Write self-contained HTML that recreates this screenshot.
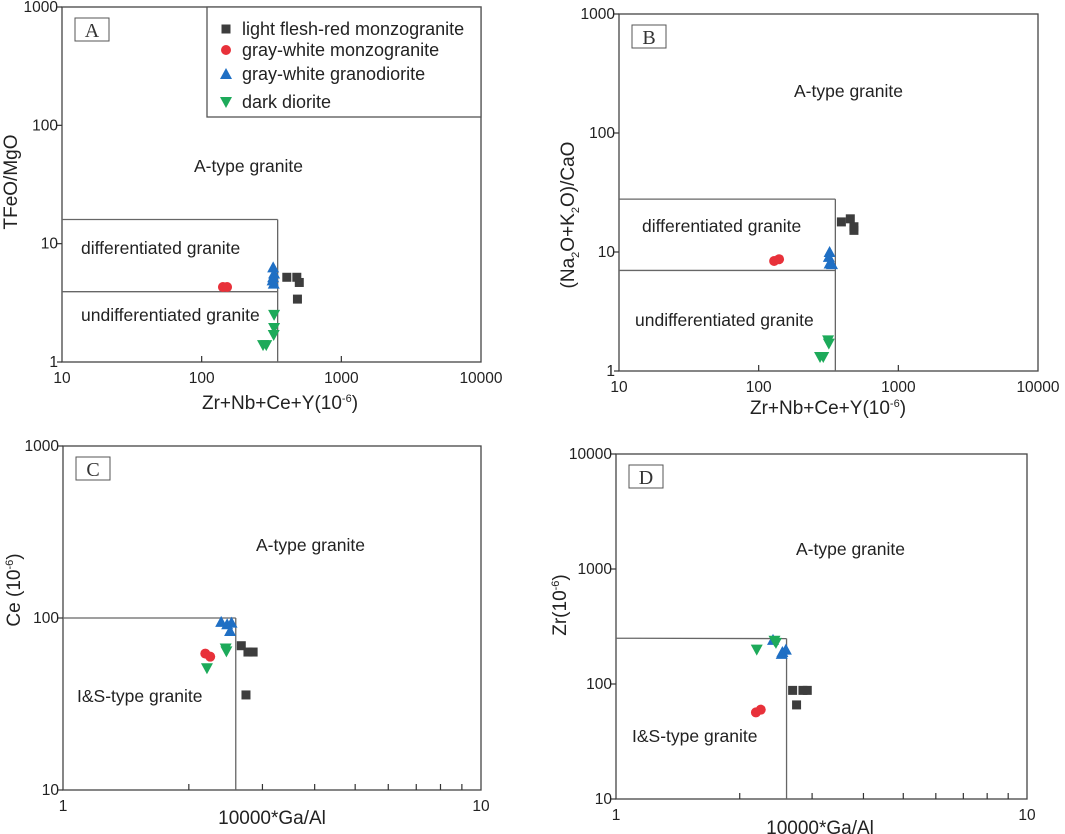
<!DOCTYPE html>
<html><head><meta charset="utf-8"><style>
body{margin:0;background:#fff;}
svg{display:block;font-family:"Liberation Sans",Arial,sans-serif;}
</style></head><body>
<svg id="fig" width="1065" height="834" viewBox="0 0 1065 834"></svg>
<script>
// Panel A data: Zr+Nb+Ce+Y vs TFeO/MgO
const aSqX=[407,500,480,485], aSqY=[5.2,4.7,5.2,3.4];
const aCiX=[142,152], aCiY=[4.3,4.3];
const aTrX=[325,325,328,330,322], aTrY=[6.3,5.2,4.6,5.6,4.9];
const aDtX=[330,330,328,275,290], aDtY=[2.5,1.94,1.69,1.39,1.39];
// Panel B data
const bSqX=[391,453,481,481], bSqY=[17.9,19,16.3,15.2];
const bCiX=[129,140], bCiY=[8.4,8.7];
const bTrX=[322,322,318,335], bTrY=[10,8.0,9.1,7.9];
const bDtX=[314,318,275,290], bDtY=[1.81,1.70,1.31,1.31];
// Panel C data: 10000*Ga/Al vs Ce
const cSqX=[2.67,2.77,2.85,2.74], cSqY=[69,63.4,63.4,35.7];
const cCiX=[2.19,2.25], cCiY=[62.1,59.6];
const cTrX=[2.39,2.47,2.53,2.51], cTrY=[95,92,94,84];
const cDtX=[2.45,2.46,2.21], cDtY=[66.5,64,51];
// Panel D data: 10000*Ga/Al vs Zr
const dSqX=[2.69,2.85,2.92,2.75], dSqY=[88,88,88,65.8];
const dCiX=[2.19,2.25], dCiY=[56.6,59.8];
const dTrX=[2.54,2.59,2.53,2.41], dTrY=[190,199,183,242];
const dDtX=[2.20,2.43,2.45], dDtY=[199,238,228];
const legendLabels=["light flesh-red monzogranite","gray-white monzogranite","gray-white granodiorite","dark diorite"];

const NS="http://www.w3.org/2000/svg";
const svg=document.getElementById('fig');
function mk(tag,attrs,parent,text){const e=document.createElementNS(NS,tag);for(const k in attrs)e.setAttribute(k,attrs[k]);if(text!==undefined)e.textContent=text;(parent||svg).appendChild(e);return e;}

function panel(p){
  const g=mk('g',{});
  
  
  const lx=Math.log10(p.x0),ux=Math.log10(p.x1),ly=Math.log10(p.y0),uy=Math.log10(p.y1);
  const X=v=>p.L+(Math.log10(v)-lx)/(ux-lx)*(p.R-p.L);
  const Y=v=>p.B-(Math.log10(v)-ly)/(uy-ly)*(p.B-p.T);
  const fr=mk('rect',{x:p.L,y:p.T,width:p.R-p.L,height:p.B-p.T,fill:'none',stroke:'#444','stroke-width':1.3},g);
  
  
  for(let e=ly;e<=uy+1e-9;e++){const v=Math.pow(10,e);const y=Y(v);
    mk('line',{x1:p.L-5,x2:p.L,y1:y,y2:y,stroke:'#333','stroke-width':1.2},g);
    const t=mk('text',{x:p.L-4,y:y+5,'text-anchor':'end','font-size':15.5,fill:'#222'},g,String(Math.round(v)));
    
    
  }
  for(let e=lx;e<=ux+1e-9;e++){const v=Math.pow(10,e);const x=X(v);
    const t=mk('text',{x:x,y:p.B+21,'text-anchor':'middle','font-size':15.5,fill:'#222'},g,String(Math.round(v)));
    
    
    if(!p.minor&&e>lx&&e<ux){mk('line',{x1:x,x2:x,y1:p.B,y2:p.B-6,stroke:'#333','stroke-width':1.2},g);}
    if(p.minor&&e<ux){for(let m=2;m<=9;m++){const xm=X(m*v);mk('line',{x1:xm,x2:xm,y1:p.B,y2:p.B-6,stroke:'#333','stroke-width':1.2},g);}}
  }
  p.bounds.forEach(b=>{mk('line',{x1:X(b[0]),y1:Y(b[1]),x2:X(b[2]),y2:Y(b[3]),stroke:'#666','stroke-width':1.3},g);});
  const lb=mk('rect',{x:p.L+13,y:p.T+11,width:34,height:23,fill:'#fff',stroke:'#555','stroke-width':1},g);
  
  
  mk('text',{x:p.L+30,y:p.T+30,'text-anchor':'middle','font-size':20,'font-family':'"Liberation Serif",serif',fill:'#333'},g,p.letter);
  p.regions.forEach(r=>{const t=mk('text',{x:r[1],y:r[2],'font-size':17.5,fill:'#222'},g,r[0]);
    
    });
  const xt=mk('text',{x:p.xt[0],y:p.xt[1],'text-anchor':'middle','font-size':19,fill:'#222'},g);
  xt.innerHTML=p.xtitle;
  
  
  const yt=mk('text',{x:0,y:0,'text-anchor':'middle','font-size':19,fill:'#222',transform:`translate(${p.yt[0]},${p.yt[1]}) rotate(-90)`},g);
  yt.innerHTML=p.ytitle;
  
  
  p.series.forEach(s=>{s.xs.forEach((xv,i)=>{marker(g,s.type,X(xv),Y(s.ys[i]));});});
  return g;
}
function marker(g,type,x,y){
  let e;
  if(type==='sq')e=mk('rect',{x:x-4.5,y:y-4.5,width:9,height:9,fill:'#3d3d3d'},g);
  else if(type==='ci')e=mk('circle',{cx:x,cy:y,r:5,fill:'#e8313a'},g);
  else if(type==='tr')e=mk('polygon',{points:`${x},${y-6} ${x-6},${y+5} ${x+6},${y+5}`,fill:'#1f6fc4'},g);
  else e=mk('polygon',{points:`${x},${y+6} ${x-6},${y-5} ${x+6},${y-5}`,fill:'#1daa5a'},g);
  
  
  return e;
}
const sub='<tspan dy="-7" font-size="11">-6</tspan><tspan dy="7">)</tspan>';
const gA=panel({name:'panel-a',letter:'A',L:62,R:481,T:7,B:362,x0:10,x1:10000,y0:1,y1:1000,
  bounds:[[10,16,350,16],[350,16,350,1],[10,3.93,350,3.93]],
  regions:[['A-type granite',194,172],['differentiated granite',81,254],['undifferentiated granite',81,321]],
  xt:[280,409],xtitle:'Zr+Nb+Ce+Y(10'+sub,yt:[17,182],ytitle:'TFeO/MgO',
  series:[{type:'sq',xs:aSqX,ys:aSqY},{type:'ci',xs:aCiX,ys:aCiY},{type:'tr',xs:aTrX,ys:aTrY},{type:'dt',xs:aDtX,ys:aDtY}]});
const lg=mk('g',{},gA);


mk('rect',{x:207,y:7,width:274,height:110,fill:'#fff',stroke:'#555','stroke-width':1.3},lg);
const legTypes=['sq','ci','tr','dt'];
const legY=[29,50,74,102];
legendLabels.forEach((lab,i)=>{
  marker(lg,legTypes[i],226,legY[i]);
  const t=mk('text',{x:242,y:legY[i]+6,'font-size':18,fill:'#222'},lg,lab);
  
  
});
panel({name:'panel-b',letter:'B',L:619,R:1038,T:14,B:371,x0:10,x1:10000,y0:1,y1:1000,
  bounds:[[10,27.8,354,27.8],[354,27.8,354,1],[10,7,354,7]],
  regions:[['A-type granite',794,97],['differentiated granite',642,232],['undifferentiated granite',635,326]],
  xt:[828,414],xtitle:'Zr+Nb+Ce+Y(10'+sub,yt:[574,215],ytitle:'(Na<tspan dy="5" font-size="11">2</tspan><tspan dy="-5">O+K</tspan><tspan dy="5" font-size="11">2</tspan><tspan dy="-5">O)/CaO</tspan>',
  series:[{type:'sq',xs:bSqX,ys:bSqY},{type:'ci',xs:bCiX,ys:bCiY},{type:'tr',xs:bTrX,ys:bTrY},{type:'dt',xs:bDtX,ys:bDtY}]});
panel({name:'panel-c',letter:'C',L:63,R:481,T:446,B:790,x0:1,x1:10,y0:10,y1:1000,minor:true,
  bounds:[[1,100,2.59,100],[2.59,100,2.59,10]],
  regions:[['A-type granite',256,551],['I&S-type granite',77,702]],
  xt:[272,824],xtitle:'10000*Ga/Al',yt:[20,590],ytitle:'Ce (10'+sub,
  series:[{type:'sq',xs:cSqX,ys:cSqY},{type:'ci',xs:cCiX,ys:cCiY},{type:'tr',xs:cTrX,ys:cTrY},{type:'dt',xs:cDtX,ys:cDtY}]});
panel({name:'panel-d',letter:'D',L:616,R:1027,T:454,B:799,x0:1,x1:10,y0:10,y1:10000,minor:true,
  bounds:[[1,250,2.6,248],[2.6,248,2.6,10]],
  regions:[['A-type granite',796,555],['I&S-type granite',632,742]],
  xt:[820,834],xtitle:'10000*Ga/Al',yt:[566,605],ytitle:'Zr(10'+sub,
  series:[{type:'sq',xs:dSqX,ys:dSqY},{type:'ci',xs:dCiX,ys:dCiY},{type:'tr',xs:dTrX,ys:dTrY},{type:'dt',xs:dDtX,ys:dDtY}]});
</script>
</body></html>
